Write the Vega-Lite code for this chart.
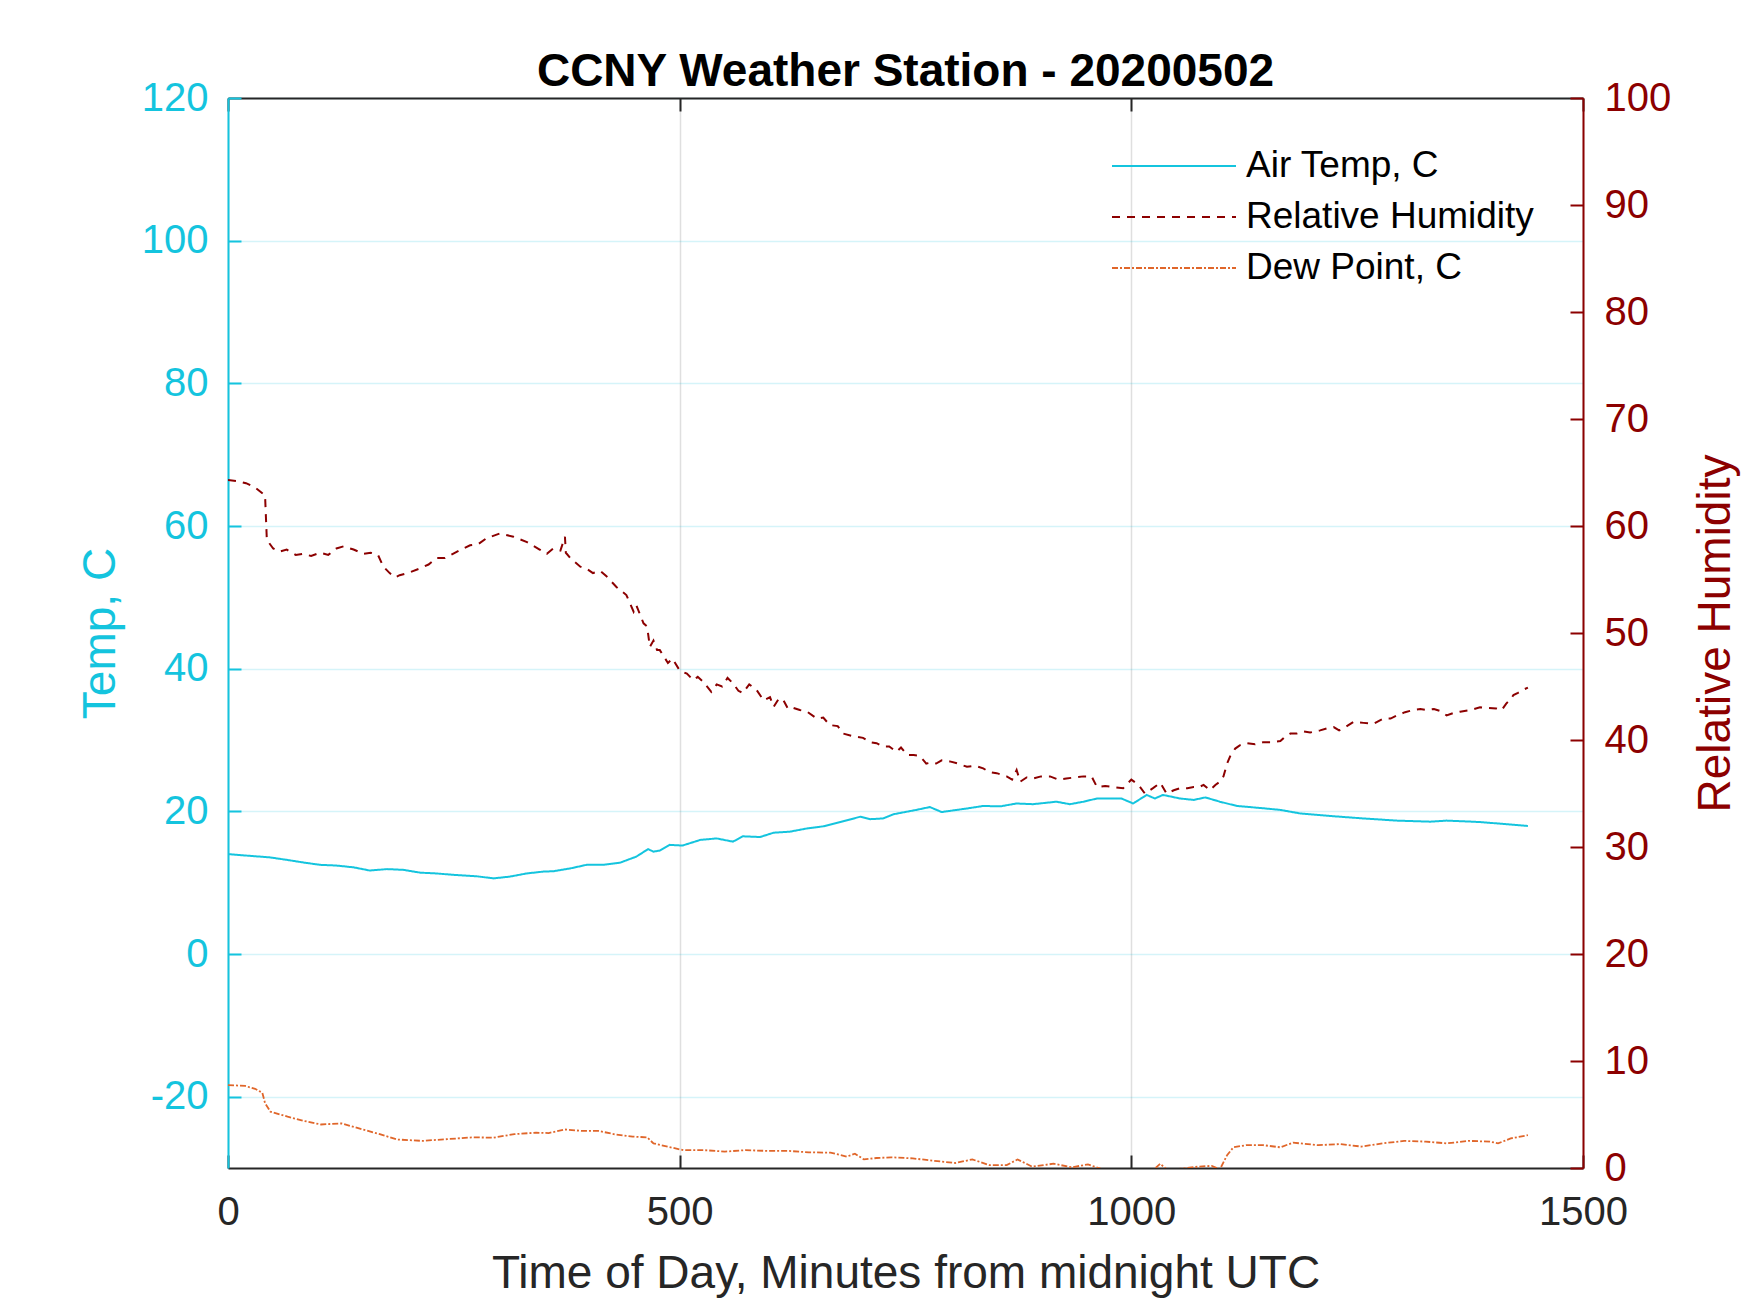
{
"$schema": "https://vega.github.io/schema/vega-lite/v6.json",
"width": 1355, "height": 1070,
"autosize": {"type": "none"},
"padding": {"left": 228, "top": 98, "right": 167, "bottom": 145},
"background": "white",
"config": {
  "view": {"stroke": null},
  "font": "Liberation Sans",
  "axis": {"labelFont": "Liberation Sans", "titleFont": "Liberation Sans", "labelFontSize": 40, "titleFontSize": 46, "titleFontWeight": "normal", "labelFlush": false, "labelOverlap": false, "labelBound": false, "tickSize": -13, "tickWidth": 2, "domainWidth": 2, "gridWidth": 1.5},
  "legend": {"symbolType": "stroke", "symbolSize": 15376, "symbolStrokeWidth": 2, "labelFont": "Liberation Sans", "labelFontSize": 37, "labelColor": "black", "labelOffset": 9, "clipHeight": 40, "rowPadding": 11, "padding": 0, "labelLimit": 0}
},
"title": {"text": "CCNY Weather Station - 20200502", "font": "Liberation Sans", "fontSize": 46, "fontWeight": "bold", "color": "black", "anchor": "middle", "baseline": "alphabetic", "offset": 11, "dy": 65},
"data": {"values": [
{"m":0,"s":"Air Temp, C","v":14.0},{"m":20,"s":"Air Temp, C","v":13.8},{"m":46,"s":"Air Temp, C","v":13.55},{"m":65,"s":"Air Temp, C","v":13.2},{"m":85,"s":"Air Temp, C","v":12.8},{"m":102,"s":"Air Temp, C","v":12.5},{"m":120,"s":"Air Temp, C","v":12.4},{"m":139,"s":"Air Temp, C","v":12.15},{"m":157,"s":"Air Temp, C","v":11.7},{"m":176,"s":"Air Temp, C","v":11.9},{"m":194,"s":"Air Temp, C","v":11.8},{"m":213,"s":"Air Temp, C","v":11.4},{"m":230,"s":"Air Temp, C","v":11.3},{"m":249,"s":"Air Temp, C","v":11.1},{"m":275,"s":"Air Temp, C","v":10.9},{"m":294,"s":"Air Temp, C","v":10.6},{"m":312,"s":"Air Temp, C","v":10.85},{"m":331,"s":"Air Temp, C","v":11.3},{"m":349,"s":"Air Temp, C","v":11.55},{"m":360,"s":"Air Temp, C","v":11.6},{"m":379,"s":"Air Temp, C","v":12.0},{"m":397,"s":"Air Temp, C","v":12.5},{"m":415,"s":"Air Temp, C","v":12.5},{"m":434,"s":"Air Temp, C","v":12.8},{"m":452,"s":"Air Temp, C","v":13.65},{"m":465,"s":"Air Temp, C","v":14.7},{"m":471,"s":"Air Temp, C","v":14.35},{"m":478,"s":"Air Temp, C","v":14.5},{"m":489,"s":"Air Temp, C","v":15.3},{"m":503,"s":"Air Temp, C","v":15.2},{"m":523,"s":"Air Temp, C","v":16.0},{"m":541,"s":"Air Temp, C","v":16.2},{"m":559,"s":"Air Temp, C","v":15.75},{"m":570,"s":"Air Temp, C","v":16.5},{"m":589,"s":"Air Temp, C","v":16.4},{"m":604,"s":"Air Temp, C","v":17.0},{"m":622,"s":"Air Temp, C","v":17.15},{"m":641,"s":"Air Temp, C","v":17.6},{"m":659,"s":"Air Temp, C","v":17.9},{"m":678,"s":"Air Temp, C","v":18.5},{"m":700,"s":"Air Temp, C","v":19.25},{"m":711,"s":"Air Temp, C","v":18.9},{"m":725,"s":"Air Temp, C","v":19.0},{"m":737,"s":"Air Temp, C","v":19.6},{"m":762,"s":"Air Temp, C","v":20.2},{"m":777,"s":"Air Temp, C","v":20.6},{"m":790,"s":"Air Temp, C","v":19.9},{"m":818,"s":"Air Temp, C","v":20.4},{"m":836,"s":"Air Temp, C","v":20.75},{"m":855,"s":"Air Temp, C","v":20.7},{"m":873,"s":"Air Temp, C","v":21.1},{"m":891,"s":"Air Temp, C","v":21.0},{"m":917,"s":"Air Temp, C","v":21.35},{"m":932,"s":"Air Temp, C","v":21.0},{"m":947,"s":"Air Temp, C","v":21.35},{"m":962,"s":"Air Temp, C","v":21.8},{"m":989,"s":"Air Temp, C","v":21.8},{"m":1002,"s":"Air Temp, C","v":21.1},{"m":1017,"s":"Air Temp, C","v":22.3},{"m":1026,"s":"Air Temp, C","v":21.8},{"m":1035,"s":"Air Temp, C","v":22.3},{"m":1054,"s":"Air Temp, C","v":21.8},{"m":1069,"s":"Air Temp, C","v":21.6},{"m":1082,"s":"Air Temp, C","v":21.95},{"m":1098,"s":"Air Temp, C","v":21.35},{"m":1117,"s":"Air Temp, C","v":20.75},{"m":1140,"s":"Air Temp, C","v":20.5},{"m":1165,"s":"Air Temp, C","v":20.2},{"m":1187,"s":"Air Temp, C","v":19.7},{"m":1220,"s":"Air Temp, C","v":19.35},{"m":1257,"s":"Air Temp, C","v":19.0},{"m":1294,"s":"Air Temp, C","v":18.7},{"m":1331,"s":"Air Temp, C","v":18.55},{"m":1349,"s":"Air Temp, C","v":18.7},{"m":1386,"s":"Air Temp, C","v":18.5},{"m":1415,"s":"Air Temp, C","v":18.2},{"m":1439,"s":"Air Temp, C","v":17.95},
{"m":0,"s":"Relative Humidity","v":64.3},{"m":10,"s":"Relative Humidity","v":64.2},{"m":20,"s":"Relative Humidity","v":64.0},{"m":30,"s":"Relative Humidity","v":63.6},{"m":39,"s":"Relative Humidity","v":63.0},{"m":41,"s":"Relative Humidity","v":62.9},{"m":43,"s":"Relative Humidity","v":58.7},{"m":50,"s":"Relative Humidity","v":57.9},{"m":57,"s":"Relative Humidity","v":57.6},{"m":65,"s":"Relative Humidity","v":57.8},{"m":75,"s":"Relative Humidity","v":57.3},{"m":83,"s":"Relative Humidity","v":57.4},{"m":92,"s":"Relative Humidity","v":57.2},{"m":102,"s":"Relative Humidity","v":57.5},{"m":111,"s":"Relative Humidity","v":57.3},{"m":120,"s":"Relative Humidity","v":57.9},{"m":128,"s":"Relative Humidity","v":58.1},{"m":139,"s":"Relative Humidity","v":57.8},{"m":150,"s":"Relative Humidity","v":57.4},{"m":158,"s":"Relative Humidity","v":57.5},{"m":166,"s":"Relative Humidity","v":57.3},{"m":172,"s":"Relative Humidity","v":56.2},{"m":179,"s":"Relative Humidity","v":55.6},{"m":185,"s":"Relative Humidity","v":55.2},{"m":190,"s":"Relative Humidity","v":55.4},{"m":199,"s":"Relative Humidity","v":55.6},{"m":213,"s":"Relative Humidity","v":56.05},{"m":222,"s":"Relative Humidity","v":56.4},{"m":231,"s":"Relative Humidity","v":57.0},{"m":240,"s":"Relative Humidity","v":57.0},{"m":249,"s":"Relative Humidity","v":57.4},{"m":258,"s":"Relative Humidity","v":57.8},{"m":268,"s":"Relative Humidity","v":58.2},{"m":277,"s":"Relative Humidity","v":58.3},{"m":286,"s":"Relative Humidity","v":58.85},{"m":301,"s":"Relative Humidity","v":59.3},{"m":316,"s":"Relative Humidity","v":59.0},{"m":331,"s":"Relative Humidity","v":58.5},{"m":345,"s":"Relative Humidity","v":57.8},{"m":353,"s":"Relative Humidity","v":57.4},{"m":360,"s":"Relative Humidity","v":57.9},{"m":368,"s":"Relative Humidity","v":57.7},{"m":373,"s":"Relative Humidity","v":59.0},{"m":374,"s":"Relative Humidity","v":57.5},{"m":379,"s":"Relative Humidity","v":57.0},{"m":390,"s":"Relative Humidity","v":56.2},{"m":397,"s":"Relative Humidity","v":56.0},{"m":404,"s":"Relative Humidity","v":55.6},{"m":412,"s":"Relative Humidity","v":55.8},{"m":419,"s":"Relative Humidity","v":55.3},{"m":430,"s":"Relative Humidity","v":54.3},{"m":441,"s":"Relative Humidity","v":53.55},{"m":449,"s":"Relative Humidity","v":52.0},{"m":452,"s":"Relative Humidity","v":52.6},{"m":460,"s":"Relative Humidity","v":50.9},{"m":464,"s":"Relative Humidity","v":50.6},{"m":467,"s":"Relative Humidity","v":48.7},{"m":471,"s":"Relative Humidity","v":49.3},{"m":475,"s":"Relative Humidity","v":48.4},{"m":478,"s":"Relative Humidity","v":48.4},{"m":487,"s":"Relative Humidity","v":47.2},{"m":492,"s":"Relative Humidity","v":47.6},{"m":500,"s":"Relative Humidity","v":46.5},{"m":508,"s":"Relative Humidity","v":46.2},{"m":515,"s":"Relative Humidity","v":45.6},{"m":520,"s":"Relative Humidity","v":45.9},{"m":526,"s":"Relative Humidity","v":45.45},{"m":535,"s":"Relative Humidity","v":44.5},{"m":541,"s":"Relative Humidity","v":45.2},{"m":547,"s":"Relative Humidity","v":45.0},{"m":553,"s":"Relative Humidity","v":45.8},{"m":559,"s":"Relative Humidity","v":45.3},{"m":565,"s":"Relative Humidity","v":44.6},{"m":570,"s":"Relative Humidity","v":44.4},{"m":577,"s":"Relative Humidity","v":45.2},{"m":585,"s":"Relative Humidity","v":44.7},{"m":593,"s":"Relative Humidity","v":43.7},{"m":600,"s":"Relative Humidity","v":44.0},{"m":604,"s":"Relative Humidity","v":43.1},{"m":610,"s":"Relative Humidity","v":43.9},{"m":615,"s":"Relative Humidity","v":43.7},{"m":620,"s":"Relative Humidity","v":42.9},{"m":626,"s":"Relative Humidity","v":43.0},{"m":633,"s":"Relative Humidity","v":42.8},{"m":641,"s":"Relative Humidity","v":42.65},{"m":652,"s":"Relative Humidity","v":42.0},{"m":659,"s":"Relative Humidity","v":42.1},{"m":666,"s":"Relative Humidity","v":41.4},{"m":675,"s":"Relative Humidity","v":41.3},{"m":681,"s":"Relative Humidity","v":40.6},{"m":690,"s":"Relative Humidity","v":40.4},{"m":696,"s":"Relative Humidity","v":40.3},{"m":703,"s":"Relative Humidity","v":40.2},{"m":711,"s":"Relative Humidity","v":39.8},{"m":718,"s":"Relative Humidity","v":39.7},{"m":725,"s":"Relative Humidity","v":39.4},{"m":732,"s":"Relative Humidity","v":39.4},{"m":740,"s":"Relative Humidity","v":38.9},{"m":745,"s":"Relative Humidity","v":39.3},{"m":752,"s":"Relative Humidity","v":38.6},{"m":759,"s":"Relative Humidity","v":38.6},{"m":766,"s":"Relative Humidity","v":38.5},{"m":773,"s":"Relative Humidity","v":37.8},{"m":779,"s":"Relative Humidity","v":37.9},{"m":784,"s":"Relative Humidity","v":37.8},{"m":790,"s":"Relative Humidity","v":38.1},{"m":799,"s":"Relative Humidity","v":38.0},{"m":808,"s":"Relative Humidity","v":37.8},{"m":818,"s":"Relative Humidity","v":37.5},{"m":827,"s":"Relative Humidity","v":37.6},{"m":836,"s":"Relative Humidity","v":37.35},{"m":843,"s":"Relative Humidity","v":37.0},{"m":851,"s":"Relative Humidity","v":36.9},{"m":862,"s":"Relative Humidity","v":36.6},{"m":868,"s":"Relative Humidity","v":36.3},{"m":873,"s":"Relative Humidity","v":37.2},{"m":877,"s":"Relative Humidity","v":36.1},{"m":884,"s":"Relative Humidity","v":36.5},{"m":891,"s":"Relative Humidity","v":36.4},{"m":900,"s":"Relative Humidity","v":36.6},{"m":910,"s":"Relative Humidity","v":36.6},{"m":919,"s":"Relative Humidity","v":36.3},{"m":928,"s":"Relative Humidity","v":36.4},{"m":937,"s":"Relative Humidity","v":36.5},{"m":947,"s":"Relative Humidity","v":36.6},{"m":956,"s":"Relative Humidity","v":36.6},{"m":962,"s":"Relative Humidity","v":35.6},{"m":971,"s":"Relative Humidity","v":35.7},{"m":980,"s":"Relative Humidity","v":35.6},{"m":991,"s":"Relative Humidity","v":35.5},{"m":1000,"s":"Relative Humidity","v":36.3},{"m":1008,"s":"Relative Humidity","v":35.8},{"m":1015,"s":"Relative Humidity","v":35.0},{"m":1024,"s":"Relative Humidity","v":35.5},{"m":1032,"s":"Relative Humidity","v":36.0},{"m":1039,"s":"Relative Humidity","v":35.0},{"m":1047,"s":"Relative Humidity","v":35.3},{"m":1054,"s":"Relative Humidity","v":35.5},{"m":1062,"s":"Relative Humidity","v":35.5},{"m":1069,"s":"Relative Humidity","v":35.6},{"m":1075,"s":"Relative Humidity","v":35.6},{"m":1080,"s":"Relative Humidity","v":35.8},{"m":1087,"s":"Relative Humidity","v":35.3},{"m":1093,"s":"Relative Humidity","v":35.8},{"m":1098,"s":"Relative Humidity","v":36.1},{"m":1102,"s":"Relative Humidity","v":36.6},{"m":1106,"s":"Relative Humidity","v":37.8},{"m":1110,"s":"Relative Humidity","v":38.6},{"m":1115,"s":"Relative Humidity","v":39.2},{"m":1120,"s":"Relative Humidity","v":39.5},{"m":1128,"s":"Relative Humidity","v":39.7},{"m":1137,"s":"Relative Humidity","v":39.6},{"m":1146,"s":"Relative Humidity","v":39.8},{"m":1155,"s":"Relative Humidity","v":39.8},{"m":1165,"s":"Relative Humidity","v":39.9},{"m":1170,"s":"Relative Humidity","v":40.3},{"m":1176,"s":"Relative Humidity","v":40.6},{"m":1183,"s":"Relative Humidity","v":40.6},{"m":1190,"s":"Relative Humidity","v":40.8},{"m":1198,"s":"Relative Humidity","v":40.7},{"m":1209,"s":"Relative Humidity","v":40.9},{"m":1217,"s":"Relative Humidity","v":41.1},{"m":1224,"s":"Relative Humidity","v":41.2},{"m":1230,"s":"Relative Humidity","v":40.9},{"m":1235,"s":"Relative Humidity","v":41.1},{"m":1246,"s":"Relative Humidity","v":41.7},{"m":1257,"s":"Relative Humidity","v":41.6},{"m":1268,"s":"Relative Humidity","v":41.5},{"m":1279,"s":"Relative Humidity","v":42.0},{"m":1287,"s":"Relative Humidity","v":42.0},{"m":1294,"s":"Relative Humidity","v":42.3},{"m":1303,"s":"Relative Humidity","v":42.6},{"m":1312,"s":"Relative Humidity","v":42.8},{"m":1320,"s":"Relative Humidity","v":42.9},{"m":1327,"s":"Relative Humidity","v":42.8},{"m":1335,"s":"Relative Humidity","v":42.9},{"m":1342,"s":"Relative Humidity","v":42.7},{"m":1349,"s":"Relative Humidity","v":42.3},{"m":1356,"s":"Relative Humidity","v":42.5},{"m":1364,"s":"Relative Humidity","v":42.65},{"m":1375,"s":"Relative Humidity","v":42.8},{"m":1386,"s":"Relative Humidity","v":43.05},{"m":1395,"s":"Relative Humidity","v":43.0},{"m":1404,"s":"Relative Humidity","v":42.95},{"m":1410,"s":"Relative Humidity","v":42.8},{"m":1415,"s":"Relative Humidity","v":43.4},{"m":1420,"s":"Relative Humidity","v":43.8},{"m":1423,"s":"Relative Humidity","v":44.2},{"m":1428,"s":"Relative Humidity","v":44.4},{"m":1434,"s":"Relative Humidity","v":44.7},{"m":1439,"s":"Relative Humidity","v":44.9},
{"m":0,"s":"Dew Point, C","v":-18.37},{"m":19,"s":"Dew Point, C","v":-18.5},{"m":30,"s":"Dew Point, C","v":-18.9},{"m":38,"s":"Dew Point, C","v":-19.45},{"m":41,"s":"Dew Point, C","v":-20.9},{"m":47,"s":"Dew Point, C","v":-22.1},{"m":66,"s":"Dew Point, C","v":-22.8},{"m":84,"s":"Dew Point, C","v":-23.4},{"m":103,"s":"Dew Point, C","v":-23.9},{"m":126,"s":"Dew Point, C","v":-23.75},{"m":145,"s":"Dew Point, C","v":-24.45},{"m":168,"s":"Dew Point, C","v":-25.25},{"m":187,"s":"Dew Point, C","v":-26.0},{"m":215,"s":"Dew Point, C","v":-26.2},{"m":243,"s":"Dew Point, C","v":-25.95},{"m":271,"s":"Dew Point, C","v":-25.7},{"m":294,"s":"Dew Point, C","v":-25.75},{"m":317,"s":"Dew Point, C","v":-25.25},{"m":341,"s":"Dew Point, C","v":-25.05},{"m":355,"s":"Dew Point, C","v":-25.1},{"m":373,"s":"Dew Point, C","v":-24.6},{"m":392,"s":"Dew Point, C","v":-24.8},{"m":410,"s":"Dew Point, C","v":-24.8},{"m":429,"s":"Dew Point, C","v":-25.3},{"m":448,"s":"Dew Point, C","v":-25.6},{"m":464,"s":"Dew Point, C","v":-25.7},{"m":471,"s":"Dew Point, C","v":-26.55},{"m":490,"s":"Dew Point, C","v":-27.1},{"m":504,"s":"Dew Point, C","v":-27.5},{"m":527,"s":"Dew Point, C","v":-27.5},{"m":550,"s":"Dew Point, C","v":-27.7},{"m":573,"s":"Dew Point, C","v":-27.5},{"m":597,"s":"Dew Point, C","v":-27.6},{"m":620,"s":"Dew Point, C","v":-27.6},{"m":643,"s":"Dew Point, C","v":-27.8},{"m":667,"s":"Dew Point, C","v":-27.85},{"m":685,"s":"Dew Point, C","v":-28.4},{"m":694,"s":"Dew Point, C","v":-28.0},{"m":704,"s":"Dew Point, C","v":-28.8},{"m":718,"s":"Dew Point, C","v":-28.6},{"m":734,"s":"Dew Point, C","v":-28.5},{"m":758,"s":"Dew Point, C","v":-28.65},{"m":782,"s":"Dew Point, C","v":-29.0},{"m":805,"s":"Dew Point, C","v":-29.3},{"m":824,"s":"Dew Point, C","v":-28.8},{"m":843,"s":"Dew Point, C","v":-29.6},{"m":862,"s":"Dew Point, C","v":-29.6},{"m":874,"s":"Dew Point, C","v":-28.8},{"m":890,"s":"Dew Point, C","v":-29.8},{"m":914,"s":"Dew Point, C","v":-29.4},{"m":934,"s":"Dew Point, C","v":-29.9},{"m":952,"s":"Dew Point, C","v":-29.5},{"m":966,"s":"Dew Point, C","v":-30.1},{"m":995,"s":"Dew Point, C","v":-30.3},{"m":1025,"s":"Dew Point, C","v":-30.2},{"m":1032,"s":"Dew Point, C","v":-29.4},{"m":1040,"s":"Dew Point, C","v":-30.3},{"m":1075,"s":"Dew Point, C","v":-29.8},{"m":1089,"s":"Dew Point, C","v":-29.7},{"m":1098,"s":"Dew Point, C","v":-30.2},{"m":1106,"s":"Dew Point, C","v":-28.2},{"m":1113,"s":"Dew Point, C","v":-27.1},{"m":1127,"s":"Dew Point, C","v":-26.8},{"m":1146,"s":"Dew Point, C","v":-26.8},{"m":1165,"s":"Dew Point, C","v":-27.1},{"m":1179,"s":"Dew Point, C","v":-26.45},{"m":1207,"s":"Dew Point, C","v":-26.8},{"m":1231,"s":"Dew Point, C","v":-26.65},{"m":1255,"s":"Dew Point, C","v":-27.0},{"m":1278,"s":"Dew Point, C","v":-26.55},{"m":1302,"s":"Dew Point, C","v":-26.2},{"m":1326,"s":"Dew Point, C","v":-26.3},{"m":1349,"s":"Dew Point, C","v":-26.55},{"m":1373,"s":"Dew Point, C","v":-26.2},{"m":1397,"s":"Dew Point, C","v":-26.3},{"m":1406,"s":"Dew Point, C","v":-26.55},{"m":1420,"s":"Dew Point, C","v":-25.85},{"m":1439,"s":"Dew Point, C","v":-25.4}
]},
"layer": [
  {
    "encoding": {
      "x": {"field": "m", "type": "quantitative", "scale": {"domain": [0, 1500], "nice": false, "zero": false},
        "axis": {"orient": "bottom", "values": [0, 500, 1000, 1500], "format": "d", "grid": true, "gridColor": "#262626", "gridOpacity": 0.15, "domainColor": "#262626", "tickColor": "#262626", "labelColor": "#262626", "labelPadding": 37, "title": "Time of Day, Minutes from midnight UTC", "titleColor": "#262626", "titleX": 677.5, "titleY": 119, "titleBaseline": "alphabetic", "titleAlign": "center", "titleAngle": 0}},
      "y": {"field": "v", "type": "quantitative", "scale": {"domain": [-30, 120], "nice": false, "zero": false},
        "axis": {"orient": "left", "values": [-20, 0, 20, 40, 60, 80, 100, 120], "labelExpr": "'' + datum.value", "grid": true, "gridColor": "#14c4de", "gridOpacity": 0.18, "domainColor": "#14c4de", "tickColor": "#14c4de", "labelColor": "#14c4de", "labelPadding": 33, "title": "Temp, C", "titleColor": "#14c4de", "titleX": -114, "titleY": 535, "titleAngle": 270, "titleAlign": "center", "titleBaseline": "alphabetic"}}
    },
    "layer": [
      {
        "transform": [{"filter": "datum.s === 'Air Temp, C'"}],
        "mark": {"type": "line", "clip": true, "strokeWidth": 2},
        "encoding": {
          "color": {"field": "s", "type": "nominal", "scale": {"domain": ["Air Temp, C", "Relative Humidity", "Dew Point, C"], "range": ["#14c4de", "#8c0000", "#e0662a"]}, "legend": {"title": null, "orient": "none", "legendX": 883, "legendY": 48}},
          "strokeDash": {"field": "s", "type": "nominal", "scale": {"domain": ["Air Temp, C", "Relative Humidity", "Dew Point, C"], "range": [[1, 0], [8, 7], [6, 2, 2, 2]]}, "legend": {"title": null, "orient": "none", "legendX": 883, "legendY": 48}}
        }
      },
      {
        "transform": [{"filter": "datum.s === 'Dew Point, C'"}],
        "mark": {"type": "line", "clip": true, "strokeWidth": 1.8},
        "encoding": {
          "color": {"field": "s", "type": "nominal", "scale": {"domain": ["Air Temp, C", "Relative Humidity", "Dew Point, C"], "range": ["#14c4de", "#8c0000", "#e0662a"]}, "legend": {"title": null, "orient": "none", "legendX": 883, "legendY": 48}},
          "strokeDash": {"field": "s", "type": "nominal", "scale": {"domain": ["Air Temp, C", "Relative Humidity", "Dew Point, C"], "range": [[1, 0], [8, 7], [6, 2, 2, 2]]}, "legend": {"title": null, "orient": "none", "legendX": 883, "legendY": 48}}
        }
      }
    ]
  },
  {
    "transform": [{"filter": "datum.s === 'Relative Humidity'"}],
    "mark": {"type": "line", "clip": true, "strokeWidth": 2},
    "encoding": {
      "x": {"field": "m", "type": "quantitative", "scale": {"domain": [0, 1500], "nice": false, "zero": false},
        "axis": {"orient": "top", "values": [0, 500, 1000, 1500], "labels": false, "grid": false, "title": null, "domainColor": "#262626", "tickColor": "#262626"}},
      "y": {"field": "v", "type": "quantitative", "scale": {"domain": [0, 100], "nice": false, "zero": false},
        "axis": {"orient": "right", "values": [0, 10, 20, 30, 40, 50, 60, 70, 80, 90, 100], "grid": false, "domainColor": "#8c0000", "tickColor": "#8c0000", "labelColor": "#8c0000", "labelPadding": 34, "title": "Relative Humidity", "titleColor": "#8c0000", "titleX": 146, "titleY": 535, "titleAngle": 270, "titleAlign": "center", "titleBaseline": "alphabetic"}},
      "color": {"field": "s", "type": "nominal", "scale": {"domain": ["Air Temp, C", "Relative Humidity", "Dew Point, C"], "range": ["#14c4de", "#8c0000", "#e0662a"]}, "legend": {"title": null, "orient": "none", "legendX": 883, "legendY": 48}},
      "strokeDash": {"field": "s", "type": "nominal", "scale": {"domain": ["Air Temp, C", "Relative Humidity", "Dew Point, C"], "range": [[1, 0], [8, 7], [6, 2, 2, 2]]}, "legend": {"title": null, "orient": "none", "legendX": 883, "legendY": 48}}
    }
  }
],
"resolve": {"scale": {"y": "independent"}, "axis": {"x": "independent"}}
}
